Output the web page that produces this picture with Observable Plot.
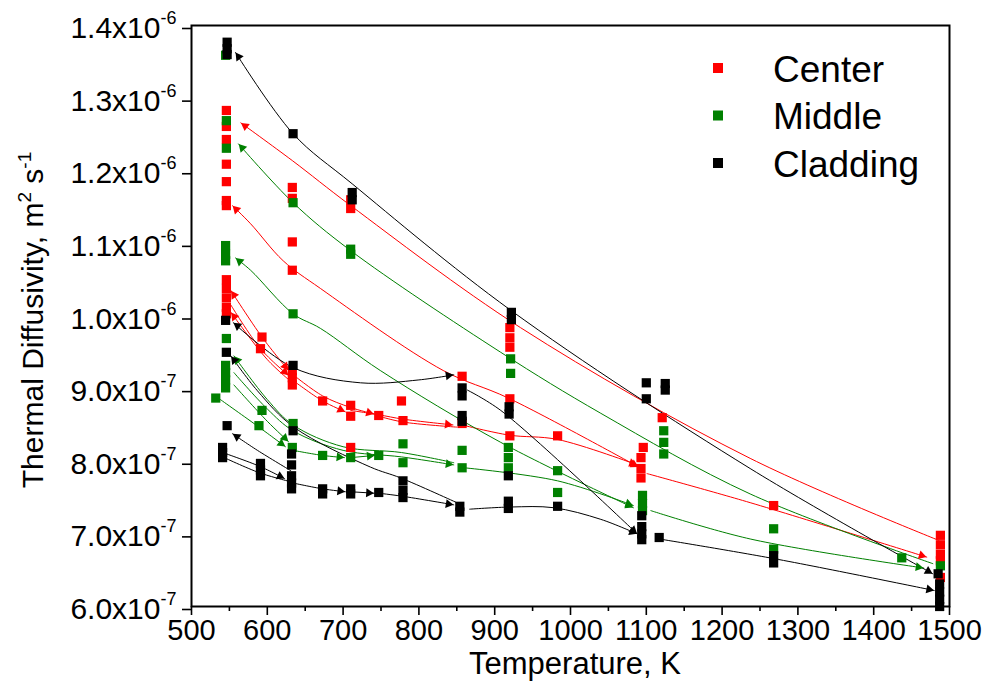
<!DOCTYPE html>
<html><head><meta charset="utf-8">
<script src="https://cdn.jsdelivr.net/npm/d3@7"></script>
<script src="https://cdn.jsdelivr.net/npm/@observablehq/plot@0.6"></script>
<style>
body{margin:0;background:#fff;}
#wrap{position:relative;width:987px;height:690px;}
</style></head><body><div id="wrap"></div>
<script>
// ---------- data (T in K, D in units of 1e-7 m^2/s) ----------
const seriesNames = ["Center", "Middle", "Cladding"];
const seriesColors = ["#ff0000", "#008000", "#000000"];
const xMajorTicks = [500,600,700,800,900,1000,1100,1200,1300,1400,1500];
const xMinorTicks = [550,650,750,850,950,1050,1150,1250,1350,1450];
const yTicks = [6,7,8,9,10,11,12,13,14];
const yTickLabels = ["6.0x10|-7","7.0x10|-7","8.0x10|-7","9.0x10|-7","1.0x10|-6","1.1x10|-6","1.2x10|-6","1.3x10|-6","1.4x10|-6"];
const xTitle = "Temperature, K";

const centerPoints = [
  [546,12.83],[546,12.61],[546,12.43],[546,12.09],[546,11.85],[546,11.59],[546,11.52],
  [546,10.5],[546,10.38],[546,10.25],[546,10.12],[546,10.03],
  [593,9.71],[591,9.55],
  [633,11.77],[633,11.62],[633,11.02],[633,10.63],[633,9.25],[633,9.15],[633,9.05],
  [673,8.83],[710,11.6],[710,11.48],[710,8.77],[710,8.62],[710,8.19],
  [747,8.63],[777,8.83],[779,8.56],[857,9.17],[857,8.52],
  [920,9.84],[920,9.7],[920,9.57],[920,8.86],[920,8.35],[983,8.35],
  [1096,8.19],[1093,8.05],[1093,7.9],[1093,7.77],[1121,8.6],[1268,7.39],
  [1488,6.98],[1488,6.85],[1488,6.72],[1488,6.63],[1488,6.4]
];
const middlePoints = [
  [532,8.87],[545,13.59],[546,12.69],[546,12.31],[545,10.97],[545,10.85],[545,10.76],
  [546,9.69],[545,9.32],[545,9.22],[545,9.12],[545,9.01],
  [593,8.7],[589,8.49],
  [634,11.56],[634,10.03],[634,8.52],[633,8.19],[673,8.08],
  [710,10.92],[710,10.85],[710,8.05],[747,8.08],[779,8.24],[779,7.98],
  [857,8.15],[857,7.91],[921,9.41],[921,9.21],[918,8.19],[918,8.05],[918,7.91],
  [983,7.87],[983,7.57],[1095,7.53],[1095,7.42],[1095,7.32],
  [1123,8.42],[1123,8.26],[1123,8.1],[1268,7.07],[1268,6.79],[1437,6.67],[1488,6.56]
];
const claddingPoints = [
  [547,13.77],[547,13.68],[547,13.6],[545,9.94],[546,9.5],[547,8.49],
  [541,8.19],[541,8.12],[541,8.05],
  [591,7.97],[591,7.88],[591,7.8],
  [634,12.51],[634,9.32],[634,8.42],[632,8.1],[632,7.95],[632,7.8],[632,7.7],[632,7.62],
  [673,7.62],[673,7.55],[712,11.7],[712,11.6],[710,7.62],[710,7.55],[747,7.57],
  [779,7.73],[779,7.6],[779,7.5],[857,9.01],[857,8.9],[857,8.63],[857,8.55],[854,7.38],[854,7.3],
  [922,10.05],[922,9.95],[919,8.75],[919,8.65],[918,7.8],[918,7.45],[918,7.35],[983,7.38],
  [1100,9.08],[1100,8.86],[1094,7.25],[1094,7.1],[1094,7.0],[1094,6.92],
  [1125,9.07],[1125,8.98],[1117,6.95],[1268,6.7],[1268,6.6],
  [1485,6.45],[1487,6.31],[1487,6.2],[1487,6.1],[1487,6.0]
];

// curves: [points, arrow ends]
const centerCurves = [
  [[[565,12.66],[633,12.14],[710,11.52],[934,9.84],[1237,8.04],[1486,6.91]], "start"],
  [[[554,11.52],[578,11.27],[621,10.76],[670,10.38],[832,9.25],[918,8.87],[1090,7.92]], "both"],
  [[[1101,7.83],[1237,7.43],[1470,6.68]], "end"],
  [[[552,10.35],[593,9.71],[628,9.25]], "both"],
  [[[552,10.15],[591,9.55],[628,9.18]], "end"],
  [[[552,10.05],[600,9.4],[633,9.08]], "start"],
  [[[633,9.12],[673,8.83],[703,8.68]], "end"],
  [[[633,9.2],[673,8.9],[710,8.74],[741,8.65]], "end"],
  [[[710,8.7],[747,8.64],[779,8.58],[845,8.5]], "end"],
  [[[747,8.62],[779,8.54],[850,8.47]], ""],
  [[[857,8.5],[919,8.36],[983,8.3],[1088,7.95]], "end"]
];
const middleCurves = [
  [[[562,12.37],[634,11.56],[710,10.9],[908,9.5],[1040,8.66],[1237,7.55],[1478,6.59]], "start"],
  [[[558,10.8],[578,10.63],[634,10.03],[670,9.83],[749,9.25],[908,8.26],[1083,7.36]], "both"],
  [[[1106,7.32],[1237,6.93],[1466,6.53]], "end"],
  [[[556,9.45],[600,8.85],[634,8.5],[700,8.2],[777,8.12],[846,7.98]], "start"],
  [[[556,9.22],[600,8.72],[634,8.42],[700,8.15],[777,8.06],[846,7.95]], "end"],
  [[[556,9.05],[600,8.55],[628,8.27]], "end"],
  [[[538,8.85],[589,8.47],[624,8.2]], "end"],
  [[[634,8.15],[673,8.08],[702,8.05]], "end"],
  [[[710,8.05],[742,8.08]], "end"],
  [[[860,7.91],[983,7.73],[1083,7.39]], "end"]
];
const claddingCurves = [
  [[[558,13.63],[634,12.51],[712,11.82],[921,10.08],[1237,7.9],[1478,6.45]], "both"],
  [[[555,9.91],[634,9.29],[723,9.08],[800,9.12],[846,9.19]], "both"],
  [[[864,8.98],[908,8.7],[1088,7.0]], "end"],
  [[[1117,6.93],[1268,6.66],[1480,6.22]], "end"],
  [[[552,9.45],[587,8.97],[635,8.47],[736,7.92],[776,7.77],[850,7.43]], "start"],
  [[[554,8.38],[587,8.15],[631,7.87]], "start"],
  [[[541,8.12],[590,7.93],[623,7.76]], "end"],
  [[[541,8.06],[590,7.84],[630,7.72]], ""],
  [[[634,7.7],[673,7.62],[703,7.58]], "end"],
  [[[710,7.58],[741,7.56]], "end"],
  [[[747,7.56],[777,7.52],[846,7.4]], "end"],
  [[[867,7.34],[921,7.37],[978,7.36],[1040,7.2],[1088,7.0]], "end"]
];

// ---------- build ----------
const FONT = "Liberation Sans, Arial, Helvetica, sans-serif";
const allPoints = [centerPoints, middlePoints, claddingPoints];
const allCurves = [centerCurves, middleCurves, claddingCurves];

const base = {
  width: 987, height: 690,
  marginLeft: 191, marginRight: 38, marginTop: 25, marginBottom: 84,
  x: {domain: [500, 1500]},
  y: {domain: [6, 14]}
};
const probe = Plot.plot({...base, marks: []});
const sx = probe.scale("x"), sy = probe.scale("y");

const pts = [], lines = [], heads = [];
const TIP = 5.4;
allPoints.forEach((arr, s) => arr.forEach(([T, D]) => pts.push({T, D, s})));
allCurves.forEach((curves, s) => curves.forEach(([p, arrow], i) => {
  const id = s + "-" + i;
  p.forEach(([T, D]) => lines.push({T, D, s, id}));
  const addHead = (a, b) => { // arrow tip at b, coming from a
    const ax = sx.apply(a[0]), ay = sy.apply(a[1]);
    const bx = sx.apply(b[0]), by = sy.apply(b[1]);
    const dx = bx - ax, dy = by - ay, L = Math.hypot(dx, dy);
    const ux = dx / L, uy = dy / L;
    heads.push({T: sx.invert(bx - ux * TIP), D: sy.invert(by - uy * TIP),
      rot: Math.atan2(uy, ux) * 180 / Math.PI + 90, s});
  };
  const n = p.length;
  if (arrow === "end" || arrow === "both") addHead(p[n - 2], p[n - 1]);
  if (arrow === "start" || arrow === "both") addHead(p[1], p[0]);
}));

const col = d => seriesColors[d.s];
const chart = Plot.plot({
  ...base,
  style: {fontFamily: FONT, fontSize: "29px", background: "#fff", color: "#000"},
  marks: [
    Plot.axisX({ticks: xMajorTicks, tickSize: 9, tickPadding: 4, strokeWidth: 1.6, label: null, fontSize: 29,
      tickFormat: d => String(d)}),
    Plot.axisX({ticks: xMinorTicks, tickSize: 5, tickFormat: () => "", strokeWidth: 1.6, label: null}),
    Plot.axisY({ticks: yTicks, tickSize: 9, tickPadding: 6, strokeWidth: 1.6, label: null, fontSize: 30,
      dy: 3, tickFormat: v => yTickLabels[yTicks.indexOf(v)]}),
    Plot.line(lines, {x: "T", y: "D", z: "id", stroke: col, strokeWidth: 1, curve: "catmull-rom"}),
    Plot.dot(heads, {x: "T", y: "D", symbol: "triangle", r: 3.3, rotate: "rot", fill: col, stroke: "none"}),
    Plot.dot(pts, {x: "T", y: "D", symbol: "square", r: 5.2, fill: col, stroke: "none"}),
    Plot.frame({stroke: "#000", strokeWidth: 2})
  ]
});

const NS = "http://www.w3.org/2000/svg";
const svg = chart;
// superscript tick labels
svg.querySelectorAll('[aria-label="y-axis tick label"] text').forEach(t => {
  const [m, e] = t.textContent.split("|");
  t.textContent = "";
  const a = document.createElementNS(NS, "tspan"); a.textContent = m; t.appendChild(a);
  const b = document.createElementNS(NS, "tspan"); b.textContent = e;
  b.setAttribute("font-size", "18"); b.setAttribute("dy", "-14"); t.appendChild(b);
});
function mk(tag, attrs, parent) {
  const el = document.createElementNS(NS, tag);
  for (const k in attrs) el.setAttribute(k, attrs[k]);
  (parent || svg).appendChild(el);
  return el;
}
// axis titles
const xt = mk("text", {x: 575, y: 674, "text-anchor": "middle", "font-size": 31, fill: "#000"});
xt.textContent = xTitle;
const yt = mk("text", {transform: "translate(43,320) rotate(-90)", "text-anchor": "middle", "font-size": 30, fill: "#000"});
const parts = [["Thermal Diffusivity, m", 0, 30], ["2", -12, 19], [" s", 12, 30], ["-1", -12, 19]];
parts.forEach(([s, dy, fs]) => { const tp = mk("tspan", {dy, "font-size": fs}, yt); tp.textContent = s; });
// legend
const legendY = [68, 115.5, 163];
seriesNames.forEach((name, i) => {
  mk("rect", {x: 713, y: legendY[i] - 5, width: 10, height: 10, fill: seriesColors[i]});
  const t = mk("text", {x: 773, y: legendY[i] + 13.5, "font-size": 37, fill: "#000", "text-anchor": "start"});
  t.textContent = name;
});
document.getElementById("wrap").appendChild(chart);
</script></body></html>
